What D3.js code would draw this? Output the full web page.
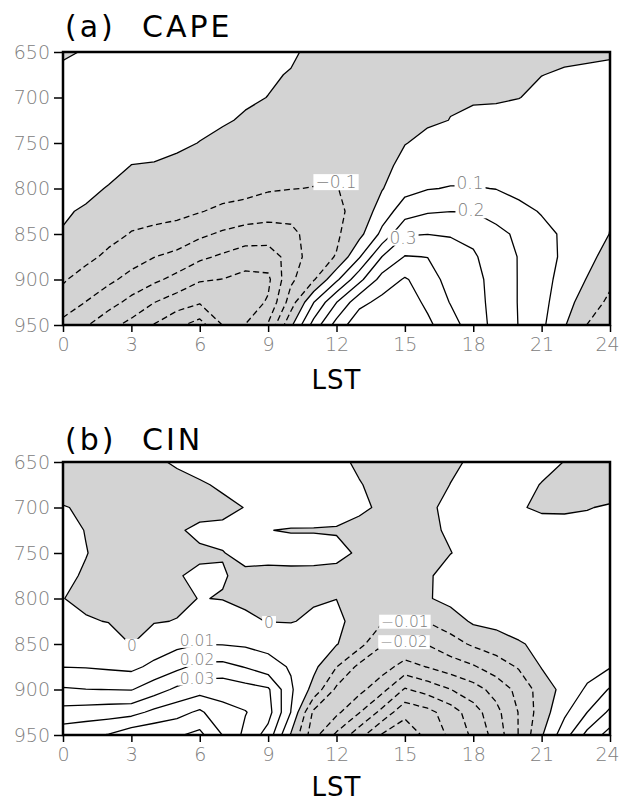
<!DOCTYPE html>
<html>
<head>
<meta charset="utf-8">
<script src="https://cdn.jsdelivr.net/npm/d3@7"></script>
<style>
  body { margin: 0; background: #fff; }
  svg { display: block; }
</style>
</head>
<body>
<svg id="chart" width="621" height="803"></svg>
<script>
// Diurnal cross-sections (local solar time vs pressure) of CAPE and CIN tendencies.
const hours = d3.range(0, 25);                       // LST, hourly
const levels = d3.range(650, 951, 25);               // hPa, top to bottom
const xTicks = [0, 3, 6, 9, 12, 15, 18, 21, 24];
const yTicks = [650, 700, 750, 800, 850, 900, 950];

const capeLevels = [-0.6, -0.5, -0.4, -0.3, -0.2, -0.1, 0, 0.1, 0.2, 0.3, 0.4, 0.5];
const cinLevels = [-0.07, -0.06, -0.05, -0.04, -0.03, -0.02, -0.01, 0, 0.01, 0.02, 0.03, 0.04, 0.05, 0.06];

// CAPE: one profile per hour, values at 650, 675, ... 950 hPa
const capeProfiles = [
  [-0.012, 0.02, 0.03, 0.035, 0.03, 0.025, 0.018, 0.007, -0.004, -0.04, -0.09, -0.14, -0.23],
  [0.006, 0.03, 0.04, 0.045, 0.04, 0.03, 0.015, -0.007, -0.035, -0.075, -0.14, -0.202, -0.29],
  [0.02, 0.04, 0.05, 0.05, 0.04, 0.02, -0.004, -0.035, -0.07, -0.12, -0.18, -0.26, -0.37],
  [0.02, 0.04, 0.05, 0.04, 0.02, -0.001, -0.03, -0.065, -0.105, -0.16, -0.23, -0.33, -0.43],
  [0.02, 0.035, 0.04, 0.03, 0.015, -0.003, -0.025, -0.07, -0.12, -0.198, -0.28, -0.398, -0.505],
  [0.02, 0.03, 0.03, 0.02, 0.008, -0.01, -0.04, -0.08, -0.13, -0.23, -0.33, -0.45, -0.58],
  [0.02, 0.025, 0.02, 0.01, -0.001, -0.02, -0.05, -0.095, -0.18, -0.28, -0.39, -0.49, -0.64],
  [0.02, 0.02, 0.015, 0.004, -0.01, -0.03, -0.06, -0.12, -0.215, -0.315, -0.402, -0.46, -0.498],
  [0.015, 0.01, 0.005, -0.004, -0.02, -0.04, -0.07, -0.135, -0.245, -0.35, -0.43, -0.45, -0.398],
  [0.01, 0.004, -0.0005, -0.01, -0.03, -0.05, -0.09, -0.155, -0.25, -0.35, -0.42, -0.39, -0.29],
  [0.005, -0.002, -0.01, -0.03, -0.05, -0.07, -0.098, -0.16, -0.23, -0.26, -0.22, -0.15, -0.02],
  [-0.008, -0.015, -0.025, -0.04, -0.06, -0.08, -0.102, -0.13, -0.15, -0.14, -0.11, 0.098, 0.24],
  [-0.01, -0.02, -0.03, -0.045, -0.06, -0.08, -0.101, -0.115, -0.115, -0.095, 0.08, 0.298, 0.44],
  [-0.012, -0.025, -0.04, -0.055, -0.07, -0.085, -0.09, -0.075, -0.03, 0.09, 0.27, 0.47, 0.57],
  [-0.015, -0.03, -0.04, -0.045, -0.045, -0.03, -0.005, 0.05, 0.125, 0.302, 0.44, 0.53, 0.56],
  [-0.02, -0.03, -0.03, -0.015, -0.003, 0.03, 0.07, 0.15, 0.29, 0.405, 0.51, 0.55, 0.55],
  [-0.02, -0.02, -0.015, -0.01, 0.02, 0.05, 0.095, 0.19, 0.298, 0.398, 0.45, 0.48, 0.52],
  [-0.015, -0.01, -0.005, 0.001, 0.03, 0.06, 0.105, 0.198, 0.295, 0.33, 0.36, 0.395, 0.44],
  [-0.012, -0.006, -0.004, 0.008, 0.035, 0.065, 0.105, 0.198, 0.28, 0.31, 0.33, 0.34, 0.35],
  [-0.01, -0.005, -0.003, 0.008, 0.03, 0.06, 0.098, 0.16, 0.23, 0.26, 0.265, 0.265, 0.27],
  [-0.008, -0.004, -0.0005, 0.01, 0.03, 0.06, 0.08, 0.12, 0.18, 0.195, 0.195, 0.195, 0.197],
  [-0.006, -0.0003, 0.005, 0.015, 0.03, 0.05, 0.07, 0.095, 0.12, 0.135, 0.135, 0.13, 0.12],
  [-0.004, 0.002, 0.01, 0.02, 0.035, 0.05, 0.065, 0.08, 0.09, 0.085, 0.065, 0.04, 0.008],
  [-0.003, 0.003, 0.01, 0.02, 0.03, 0.04, 0.05, 0.055, 0.05, 0.03, -0.005, -0.05, -0.102],
  [-0.002, 0.004, 0.01, 0.015, 0.02, 0.02, 0.015, 0.007, -0.002, -0.04, -0.08, -0.12, -0.17]
];

// CIN: one profile per hour, values at 650, 675, ... 950 hPa
const cinProfiles = [
  [-0.004, -0.0035, 0.0004, 0.001, 0.001, 0.0006, 0.0001, 0.002, 0.006, 0.0098, 0.021, 0.0335, 0.046],
  [-0.004, -0.004, -0.001, -0.0001, 0.0001, -0.0003, -0.0012, 0.0005, 0.005, 0.0095, 0.0202, 0.0345, 0.048],
  [-0.004, -0.004, -0.002, -0.0015, -0.0009, -0.0015, -0.002, -0.0002, 0.003, 0.0085, 0.0199, 0.0355, 0.0505],
  [-0.0035, -0.004, -0.003, -0.002, -0.002, -0.002, -0.002, -0.0006, -0.0002, 0.0075, 0.0195, 0.0365, 0.0565],
  [-0.0013, -0.0035, -0.003, -0.0015, -0.002, -0.0015, -0.002, -0.0004, 0.004, 0.0125, 0.0255, 0.0425, 0.058],
  [0.001, -0.0025, -0.003, -0.0006, -0.0015, -0.0003, -0.0012, 0.0002, 0.0075, 0.0175, 0.032, 0.0465, 0.059],
  [0.003, -0.0009, -0.002, 0.0011, -0.0008, 0.00085, 0.00016, 0.004, 0.0098, 0.0228, 0.036, 0.0518, 0.0625],
  [0.004, 0.0011, -0.0018, 0.0015, -0.0002, 0.0003, -0.0002, 0.003, 0.0095, 0.023, 0.037, 0.0425, 0.0498],
  [0.004, 0.003, 0.0002, 0.001, 0.0015, -0.001, -0.001, 0.001, 0.0085, 0.0195, 0.034, 0.0405, 0.0375],
  [0.004, 0.004, 0.002, 0.0001, 0.0015, -0.0013, -0.0015, -0.0002, 0.007, 0.014, 0.0315, 0.034, 0.026],
  [0.004, 0.004, 0.003, -0.0003, 0.002, -0.0015, -0.0012, -0.0003, 0.004, 0.009, 0.0115, 0.0098, -0.001],
  [0.0035, 0.003, 0.0025, -0.0003, 0.002, -0.0016, -0.0006, 0.001, 0.003, 0.0023, -0.0034, -0.022, -0.0265],
  [0.0013, 0.0018, 0.0015, -0.0003, 0.001, -0.0012, -0.0001, 0.0024, 0.0005, -0.0098, -0.022, -0.0277, -0.042],
  [-0.0009, 0.0003, 0.0006, -0.001, -0.0005, -0.0018, -0.0015, -0.004, -0.0065, -0.0225, -0.027, -0.0395, -0.056],
  [-0.003, -0.0016, -0.0005, -0.0015, -0.0015, -0.0025, -0.003, -0.009, -0.0195, -0.0255, -0.037, -0.053, -0.071],
  [-0.004, -0.003, -0.0012, -0.0015, -0.002, -0.0025, -0.003, -0.0098, -0.021, -0.034, -0.051, -0.067, -0.077],
  [-0.003, -0.0025, -0.0006, -0.0008, -0.0012, -0.0006, -0.0008, -0.0095, -0.0195, -0.0295, -0.046, -0.063, -0.067],
  [-0.0011, 0.0001, 0.00085, 0.00055, -0.0001, 0.0019, 0.003, -0.005, -0.014, -0.025, -0.0402, -0.055, -0.058],
  [0.0009, 0.002, 0.002, 0.0015, 0.0013, 0.003, 0.003, 0.0015, -0.0085, -0.021, -0.034, -0.0445, -0.048],
  [0.003, 0.003, 0.0018, 0.002, 0.002, 0.003, 0.003, 0.003, -0.005, -0.015, -0.0265, -0.033, -0.036],
  [0.003, 0.0016, 0.0005, 0.002, 0.003, 0.003, 0.003, 0.003, -0.0006, -0.009, -0.017, -0.0195, -0.0195],
  [0.0015, -0.0002, -0.0009, 0.0025, 0.003, 0.003, 0.003, 0.003, 0.0015, 0.0005, -0.0055, -0.005, -0.001],
  [-0.0001, -0.002, -0.0012, 0.003, 0.003, 0.003, 0.003, 0.003, 0.002, 0.003, 0.0032, 0.008, 0.0157],
  [-0.002, -0.003, -0.0003, 0.002, 0.003, 0.003, 0.003, 0.003, 0.004, 0.006, 0.0115, 0.02, 0.033],
  [-0.004, -0.0035, 0.0007, 0.002, 0.003, 0.003, 0.003, 0.003, 0.005, 0.0093, 0.021, 0.032, 0.044]
];

// Contour labels, anchored in (hour, hPa)
const capeLabels = [
  { text: "\u22120.1", hour: 11.98, level: 793 },
  { text: "0.1", hour: 17.86, level: 794 },
  { text: "0.2", hour: 17.9, level: 824 },
  { text: "0.3", hour: 14.92, level: 854 }
];
const cinLabels = [
  { text: "0", hour: 3.03, level: 852 },
  { text: "0", hour: 9.04, level: 827 },
  { text: "0.01", hour: 5.88, level: 846.5 },
  { text: "0.02", hour: 5.88, level: 867.5 },
  { text: "0.03", hour: 5.88, level: 888 },
  { text: "\u22120.01", hour: 15.0, level: 825.5 },
  { text: "\u22120.02", hour: 14.96, level: 848 }
];

const svg = d3.select("#chart");
const plotLeft = 63, plotRight = 610, plotHeight = 273;
const FONT = "'DejaVu Sans', 'Liberation Sans', sans-serif";

const panels = [
  { key: "a", tag: "(a)", name: "CAPE", top: 52, titleBase: 37, lstBase: 389, labelSize: 17,
    profiles: capeProfiles, thresholds: capeLevels, labels: capeLabels },
  { key: "b", tag: "(b)", name: "CIN", top: 462, titleBase: 450, lstBase: 796, labelSize: 15.5,
    profiles: cinProfiles, thresholds: cinLevels, labels: cinLabels }
];

panels.forEach(drawPanel);

function drawPanel(p) {
  const x = d3.scaleLinear().domain([0, 24]).range([plotLeft, plotRight]);
  const y = d3.scaleLinear().domain([650, 950]).range([p.top, p.top + plotHeight]);

  const nx = hours.length, ny = levels.length;
  const values = new Array(nx * ny);
  for (let j = 0; j < ny; j++)
    for (let i = 0; i < nx; i++) values[j * nx + i] = p.profiles[i][j];

  // grid index -> data coordinate (samples sit at cell centres in d3.contours)
  const hourAt = d3.scaleLinear().domain([0, nx - 1]).range([hours[0], hours[nx - 1]]);
  const levelAt = d3.scaleLinear().domain([0, ny - 1]).range([levels[0], levels[ny - 1]]);
  const proj = d3.geoTransform({
    point(px, py) { this.stream.point(x(hourAt(px - 0.5)), y(levelAt(py - 0.5))); }
  });
  const path = d3.geoPath(proj);
  const contours = d3.contours().size([nx, ny]);

  const g = svg.append("g");
  const clipId = "clip-" + p.key;
  svg.append("defs").append("clipPath").attr("id", clipId)
    .append("rect").attr("x", plotLeft).attr("y", p.top)
    .attr("width", plotRight - plotLeft).attr("height", plotHeight);

  const field = g.append("g").attr("clip-path", `url(#${clipId})`);
  // negative values shaded
  field.append("rect").attr("x", plotLeft).attr("y", p.top)
    .attr("width", plotRight - plotLeft).attr("height", plotHeight)
    .attr("fill", "#d3d3d3");
  field.append("path").attr("d", path(contours.contour(values, 0)))
    .attr("fill", "#fff").attr("fill-rule", "evenodd");

  p.thresholds.forEach(t => {
    field.append("path")
      .attr("d", path(contours.contour(values, t)))
      .attr("fill", "none")
      .attr("stroke", "#000")
      .attr("stroke-width", 1.3)
      .attr("stroke-linejoin", "round")
      .attr("stroke-dasharray", t < 0 ? "6,3.5" : null);
  });

  // contour labels on white boxes
  p.labels.forEach(l => {
    const lg = field.append("g");
    const t = lg.append("text")
      .attr("x", x(l.hour)).attr("y", y(l.level))
      .attr("text-anchor", "middle").attr("dominant-baseline", "central")
      .attr("font-family", FONT).attr("font-weight", 200)
      .attr("font-size", p.labelSize).attr("fill", "#808080")
      .text(l.text);
    const bb = t.node().getBBox();
    lg.insert("rect", "text")
      .attr("x", bb.x - 2).attr("y", bb.y + 2)
      .attr("width", bb.width + 4).attr("height", bb.height - 4)
      .attr("fill", "#fff");
  });

  // frame
  g.append("rect").attr("x", plotLeft).attr("y", p.top)
    .attr("width", plotRight - plotLeft).attr("height", plotHeight)
    .attr("fill", "none").attr("stroke", "#000").attr("stroke-width", 2.5);

  const styleAxis = a => {
    a.select(".domain").remove();
    a.selectAll("line").attr("stroke", "#000").attr("stroke-width", 1.5);
    a.selectAll("text").attr("fill", "#808080").attr("font-family", FONT)
      .attr("font-weight", 200).attr("font-size", 19);
  };
  g.append("g").attr("transform", `translate(${plotLeft},0)`)
    .call(d3.axisLeft(y).tickValues(yTicks).tickSize(9).tickPadding(4).tickFormat(d3.format("d")))
    .call(styleAxis);
  g.append("g").attr("transform", `translate(0,${p.top + plotHeight})`)
    .call(d3.axisBottom(x).tickValues(xTicks).tickSize(7).tickPadding(6).tickFormat(d3.format("d")))
    .call(styleAxis)
    .call(a => a.selectAll(".tick text").filter(d => d === 24).attr("dx", -3));

  // titles
  g.append("text").attr("x", 65).attr("y", p.titleBase)
    .attr("font-family", FONT).attr("font-size", 30).attr("letter-spacing", 3)
    .attr("fill", "#000").text(p.tag);
  g.append("text").attr("x", 142).attr("y", p.titleBase)
    .attr("font-family", FONT).attr("font-size", 30).attr("letter-spacing", 3)
    .attr("fill", "#000").text(p.name);
  g.append("text").attr("x", (plotLeft + plotRight) / 2).attr("y", p.lstBase)
    .attr("text-anchor", "middle")
    .attr("font-family", FONT).attr("font-size", 26).attr("letter-spacing", 1)
    .attr("fill", "#000").text("LST");
}
</script>
</body>
</html>
